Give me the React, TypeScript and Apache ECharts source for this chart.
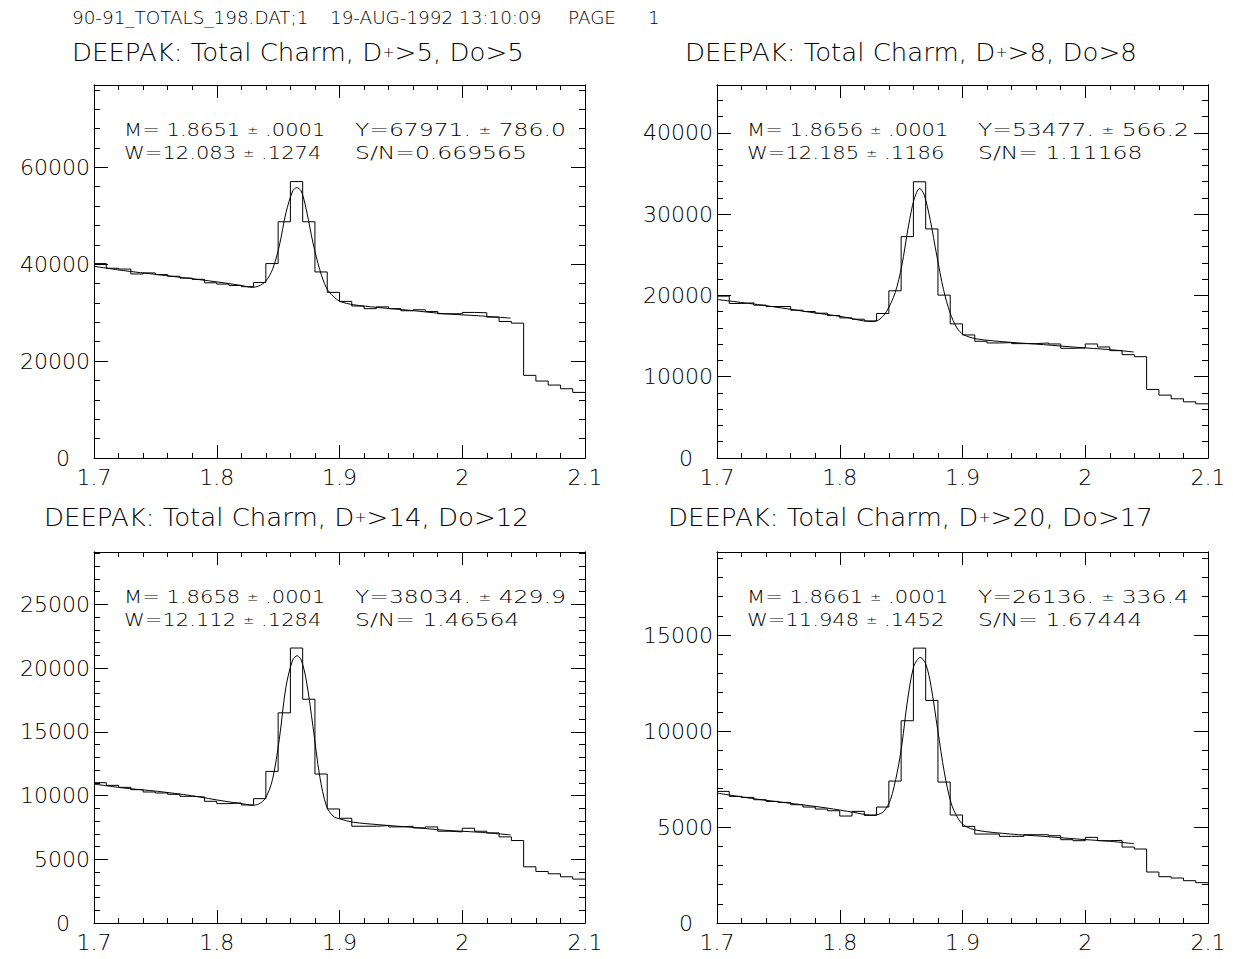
import { useEffect, useRef } from 'react';
import * as echarts from 'echarts';

// ---------- data ----------
const X_MIN = 1.7;
const X_MAX = 2.1;
const X_MAJOR = 0.1;
const BIN_W = 0.01;

const HEADER_PARTS = ['90-91_TOTALS_198.DAT;1', '19-AUG-1992 13:10:09', 'PAGE', '1'];

const DPLUS_CUT = [5, 8, 14, 20];
const DZERO_CUT = [5, 8, 12, 17];

const STAT_M = ['1.8651', '1.8656', '1.8658', '1.8661'];
const STAT_M_ERR = ['.0001', '.0001', '.0001', '.0001'];
const STAT_W = ['12.083', '12.185', '12.112', '11.948'];
const STAT_W_ERR = ['.1274', '.1186', '.1284', '.1452'];
const STAT_Y = ['67971.', '53477.', '38034.', '26136.'];
const STAT_Y_ERR = ['786.0', '566.2', '429.9', '336.4'];
const STAT_SN = ['0.669565', ' 1.11168', ' 1.46564', ' 1.67444'];

const Y_MAX = [77000, 45900, 29100, 19330];
const Y_MAJOR = [20000, 10000, 5000, 5000];

const BINS_1 = [40135, 39168, 39000, 37994, 38205, 37856, 37510, 37134, 36882, 36167, 35903, 35617, 35369, 36236, 40135, 48770, 57060, 48770, 38409, 34195, 32329, 31375, 30824, 31200, 30824, 30395, 30602, 30257, 29774, 29774, 30050, 29981, 29083, 28185, 27839, 17063, 15888, 15060, 14300, 13540];
const BINS_2 = [19918, 19012, 19095, 18807, 18642, 18642, 18189, 18025, 17819, 17531, 17243, 17078, 16872, 17778, 20576, 27243, 33992, 28189, 20041, 16502, 15144, 14362, 14156, 14198, 14074, 14074, 14156, 14033, 13498, 13539, 14033, 13663, 13210, 12716, 12469, 8436, 7737, 7284, 6914, 6667];
const BINS_3 = [11006, 10797, 10641, 10458, 10276, 10197, 10093, 9936, 9884, 9545, 9363, 9415, 9258, 9754, 11892, 16483, 21568, 17552, 11684, 8945, 8215, 7589, 7589, 7641, 7537, 7589, 7459, 7537, 7198, 7146, 7433, 7198, 7068, 6755, 6468, 4408, 4042, 3860, 3625, 3443];
const BINS_4 = [6857, 6597, 6545, 6423, 6336, 6284, 6163, 6041, 5937, 5850, 5573, 5816, 5607, 6041, 7395, 10538, 14322, 11596, 7343, 5625, 5034, 4635, 4635, 4514, 4514, 4600, 4600, 4548, 4340, 4288, 4462, 4288, 4305, 3958, 3854, 2656, 2413, 2344, 2205, 2101];

const FIT1_X = [1.7, 1.7242, 1.7518, 1.7793, 1.8068, 1.8206, 1.8288, 1.8343, 1.8398, 1.8454, 1.8509, 1.8564, 1.8619, 1.8652, 1.8688, 1.8729, 1.8784, 1.8839, 1.8894, 1.8949, 1.9004, 1.9114, 1.9307, 1.9582, 1.9858, 2.0133, 2.0394];
const FIT1_Y = [39583, 38685, 37856, 37027, 36129, 35576, 35231, 35507, 36474, 38892, 43728, 50636, 55126, 55817, 55126, 51326, 44418, 38892, 35093, 33366, 32329, 31639, 31086, 30464, 29773, 29359, 28875];
const FIT2_X = [1.7, 1.735, 1.7758, 1.803, 1.8193, 1.8274, 1.8329, 1.8383, 1.8451, 1.8505, 1.856, 1.8606, 1.8651, 1.8686, 1.8736, 1.8791, 1.8845, 1.8899, 1.8954, 1.9008, 1.9117, 1.9389, 1.966, 1.9932, 2.0204, 2.0394];
const FIT2_Y = [19506, 18848, 17942, 17366, 16872, 16790, 17119, 18066, 20329, 23621, 28560, 31852, 33169, 32469, 29383, 24856, 20741, 17860, 16008, 15185, 14650, 14239, 13951, 13621, 13333, 13045];
const FIT3_X = [1.7, 1.7242, 1.7518, 1.7793, 1.8068, 1.8206, 1.8288, 1.8343, 1.8398, 1.8454, 1.8509, 1.8564, 1.8619, 1.8655, 1.8688, 1.8729, 1.8784, 1.8839, 1.8894, 1.8949, 1.9004, 1.9114, 1.9307, 1.9582, 1.9858, 2.0133, 2.0394];
const FIT3_Y = [10901, 10588, 10328, 9989, 9545, 9363, 9232, 9337, 9806, 11240, 14370, 18543, 20629, 20968, 20629, 19065, 15413, 11501, 9154, 8372, 8163, 7902, 7720, 7511, 7276, 7120, 6911];
const FIT4_X = [1.7, 1.7299, 1.7625, 1.7897, 1.8114, 1.825, 1.8304, 1.8359, 1.8413, 1.8467, 1.8508, 1.8549, 1.8603, 1.8657, 1.8703, 1.8744, 1.8798, 1.8853, 1.8907, 1.8962, 1.9016, 1.912, 1.9391, 1.9663, 1.9935, 2.0207, 2.0397];
const FIT4_Y = [6770, 6475, 6215, 5989, 5764, 5625, 5642, 5816, 6423, 7812, 9374, 11458, 13367, 13836, 13454, 12326, 10069, 7812, 6250, 5468, 5069, 4826, 4635, 4514, 4375, 4253, 4132];

const BINS = [BINS_1, BINS_2, BINS_3, BINS_4];
const FITS_X = [FIT1_X, FIT2_X, FIT3_X, FIT4_X];
const FITS_Y = [FIT1_Y, FIT2_Y, FIT3_Y, FIT4_Y];

// ---------- layout ----------
const FONT = '"DejaVu Sans", sans-serif';
const WEIGHT = 200;
const INK = '#000';
const FRAMES = [
  { left: 94, top: 85, width: 491, height: 373 },
  { left: 717, top: 85, width: 491, height: 373 },
  { left: 94, top: 552, width: 491, height: 371 },
  { left: 717, top: 552, width: 491, height: 371 },
];
const TITLE_POS = [
  [72, 52],
  [685, 52],
  [44, 517],
  [668, 517],
];
const HEADER_X = [72, 330, 568, 648];

function buildOption() {
  const grid: any[] = [];
  const xAxis: any[] = [];
  const yAxis: any[] = [];
  const series: any[] = [];
  const graphic: any[] = [];
  const lineStyle = { color: INK, width: 1 };

  FRAMES.forEach((f, i) => {
    grid.push({ ...f, show: false });

    const xBase = {
      gridIndex: i,
      type: 'value',
      min: X_MIN,
      max: X_MAX,
      interval: X_MAJOR,
      axisLine: { show: true, onZero: false, lineStyle },
      axisTick: { show: true, inside: true, length: 13, lineStyle },
      minorTick: { show: true, splitNumber: 5, length: 5, lineStyle },
      splitLine: { show: false },
      minorSplitLine: { show: false },
    };
    xAxis.push({
      ...xBase,
      position: 'bottom',
      axisLabel: {
        show: true,
        margin: 8,
        color: INK,
        fontSize: 22,
        fontFamily: FONT,
        fontWeight: WEIGHT,
        formatter: (v: number) => String(Math.round(v * 10) / 10),
      },
    });
    xAxis.push({ ...xBase, position: 'top', axisLabel: { show: false } });

    const mk = (position: string, major: boolean, labels: boolean) => ({
      gridIndex: i,
      type: 'value',
      position,
      min: 0,
      max: Y_MAX[i],
      interval: major ? Y_MAJOR[i] : Y_MAJOR[i] / 5,
      axisLine: { show: true, onZero: false, lineStyle },
      axisTick: { show: true, inside: true, length: major ? 14 : 6, lineStyle },
      splitLine: { show: false },
      axisLabel: labels
        ? {
            show: true,
            margin: 4,
            showMaxLabel: false,
            formatter: (v: number) => (v === 0 ? '{z|0}' : '{n|' + v + '}'),
            rich: {
              z: { fontSize: 22, fontFamily: FONT, fontWeight: WEIGHT, color: INK, padding: [0, 20, 0, 0] },
              n: { fontSize: 22, fontFamily: FONT, fontWeight: WEIGHT, color: INK },
            },
          }
        : { show: false },
    });
    yAxis.push(mk('left', true, true));
    yAxis.push(mk('left', false, false));
    yAxis.push(mk('right', true, false));
    yAxis.push(mk('right', false, false));

    const bins = BINS[i];
    const hist: number[][] = bins.map((v, k) => [Math.round((X_MIN + k * BIN_W) * 1e4) / 1e4, v]);
    hist.push([X_MAX, bins[bins.length - 1]]);
    series.push({
      type: 'line',
      xAxisIndex: 2 * i,
      yAxisIndex: 4 * i,
      data: hist,
      step: 'end',
      symbol: 'none',
      silent: true,
      lineStyle,
      z: 3,
    });
    series.push({
      type: 'line',
      xAxisIndex: 2 * i,
      yAxisIndex: 4 * i,
      data: FITS_X[i].map((x, k) => [x, FITS_Y[i][k]]),
      smooth: 0.3,
      symbol: 'none',
      silent: true,
      lineStyle,
      z: 4,
    });

    // title
    graphic.push({
      type: 'text',
      x: TITLE_POS[i][0],
      y: TITLE_POS[i][1],
      scaleX: 1.04,
      silent: true,
      style: {
        text: 'DEEPAK: Total Charm, D{s|+}>' + DPLUS_CUT[i] + ', Do>' + DZERO_CUT[i],
        fontSize: 25,
        fontFamily: FONT,
        fontWeight: WEIGHT,
        fill: INK,
        align: 'left',
        verticalAlign: 'middle',
        rich: {
          s: { fontSize: 14, fontFamily: FONT, fontWeight: WEIGHT, fill: INK },
        },
      },
    });

    // fit statistics
    const statLines: [number, number, number, string][] = [
      [f.left + 30, f.top + 45, 1.24, 'M= ' + STAT_M[i] + ' {pm|±} ' + STAT_M_ERR[i]],
      [f.left + 261, f.top + 45, 1.38, 'Y=' + STAT_Y[i] + ' {pm|±} ' + STAT_Y_ERR[i]],
      [f.left + 30, f.top + 68, 1.24, 'W=' + STAT_W[i] + ' {pm|±} ' + STAT_W_ERR[i]],
      [f.left + 261, f.top + 68, 1.38, 'S/N=' + STAT_SN[i]],
    ];
    statLines.forEach(([x, y, sx, t]) => {
      graphic.push({
        type: 'text',
        x,
        y,
        scaleX: sx,
        silent: true,
        style: {
          text: t,
          fontSize: 17,
          fontFamily: FONT,
          fontWeight: WEIGHT,
          fill: INK,
          align: 'left',
          verticalAlign: 'middle',
          rich: { pm: { fontSize: 11, fontFamily: FONT, fontWeight: WEIGHT, fill: INK } },
        },
      });
    });
  });

  HEADER_PARTS.forEach((t, k) => {
    graphic.push({
      type: 'text',
      x: HEADER_X[k],
      y: 18,
      scaleX: 1.08,
      silent: true,
      style: {
        text: t,
        fontSize: 17,
        fontFamily: FONT,
        fontWeight: WEIGHT,
        fill: INK,
        align: 'left',
        verticalAlign: 'middle',
      },
    });
  });

  return {
    animation: false,
    backgroundColor: '#fff',
    grid,
    xAxis,
    yAxis,
    series,
    graphic,
  };
}

export default function App() {
  const ref = useRef<HTMLDivElement>(null);
  useEffect(() => {
    if (!ref.current) return;
    const chart = echarts.init(ref.current, null, { renderer: 'svg' });
    chart.setOption(buildOption() as any);
    return () => chart.dispose();
  }, []);
  return (
    <div
      ref={ref}
      style={{ position: 'absolute', left: 0, top: 0, width: 1233, height: 959, background: '#fff' }}
    />
  );
}
